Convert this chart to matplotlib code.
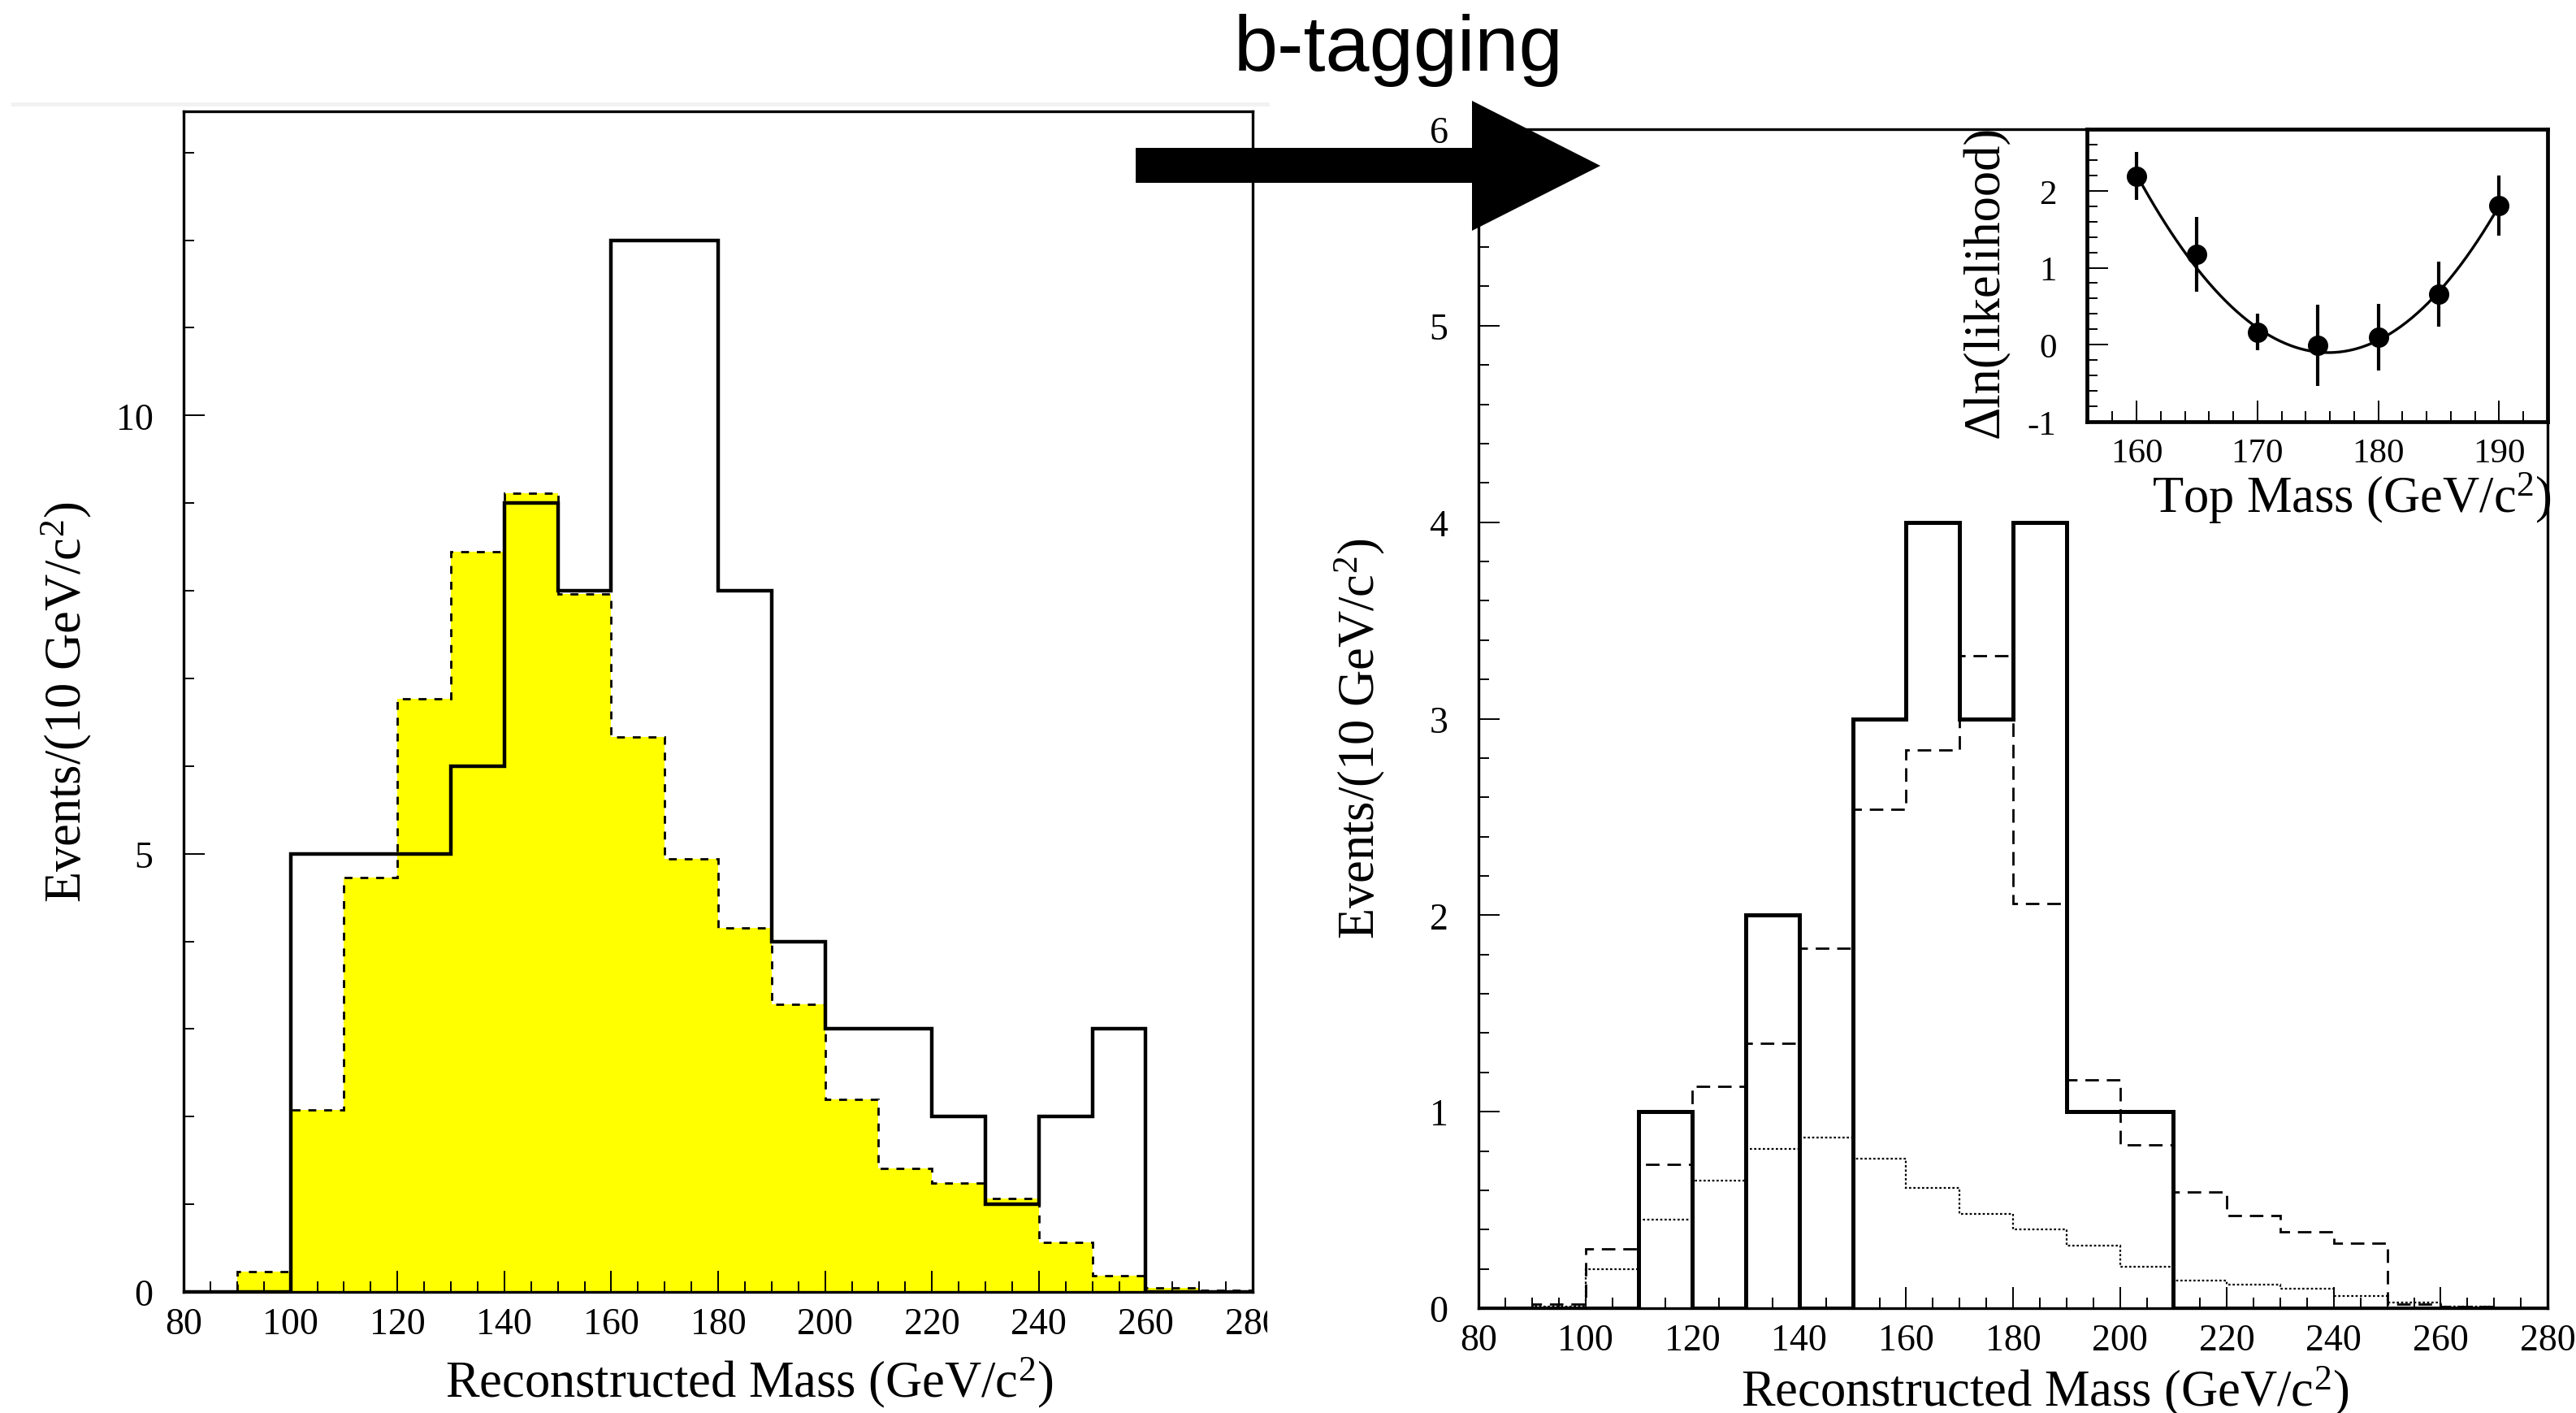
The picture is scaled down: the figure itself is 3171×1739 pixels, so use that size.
import numpy as np
import matplotlib
matplotlib.use("Agg")
import matplotlib.pyplot as plt
from matplotlib.patches import Polygon
from matplotlib.lines import Line2D
from matplotlib.transforms import Bbox, TransformedBbox
from matplotlib.ticker import MultipleLocator

# ---------------- data ----------------
mass_edges = np.arange(80, 290, 10)          # 80..280 (20 bins)
left_data = [0, 0, 5, 5, 5, 6, 9, 8, 12, 12, 8, 4, 3, 3, 2, 1, 2, 3, 0, 0]
left_mc_edges = np.arange(90, 290, 10)       # 90..280 (19 bins)
left_mc = [0.23, 2.08, 4.73, 6.77, 8.45, 9.11, 7.96, 6.33, 4.94, 4.15,
           3.28, 2.20, 1.41, 1.24, 1.07, 0.57, 0.19, 0.05, 0.02]

right_data = [0, 0, 0, 1, 0, 2, 0, 3, 4, 3, 4, 1, 1, 0, 0, 0, 0, 0, 0, 0]
right_mc_edges = np.arange(90, 280, 10)      # 90..270 (18 bins)
right_total = [0.02, 0.30, 0.73, 1.13, 1.35, 1.83, 2.54, 2.84, 3.32, 2.06,
               1.16, 0.83, 0.59, 0.47, 0.39, 0.33, 0.02, 0.01]
right_bkg = [0.01, 0.20, 0.45, 0.65, 0.81, 0.87, 0.76, 0.61, 0.48, 0.40,
             0.32, 0.21, 0.14, 0.12, 0.10, 0.06, 0.03, 0.01]

top_mass = [160, 165, 170, 175, 180, 185, 190]
dlnl = [2.19, 1.175, 0.165, -0.01, 0.10, 0.66, 1.81]
dlnl_err = [0.31, 0.49, 0.24, 0.53, 0.43, 0.42, 0.39]

title_text = "b-tagging"
xlabel_text = r"Reconstructed Mass (GeV/c$^{2}$)"
ylabel_text = r"Events/(10 GeV/c$^{2}$)"
inset_xlabel = r"Top Mass (GeV/c$^{2}$)"
inset_ylabel = "\u0394ln(likelihood)"

# ---------------- style ----------------
plt.rcParams["font.family"] = ["Liberation Serif", "DejaVu Serif"]
plt.rcParams["mathtext.fontset"] = "custom"
plt.rcParams["mathtext.rm"] = "Liberation Serif"
plt.rcParams["mathtext.it"] = "Liberation Serif:italic"
plt.rcParams["axes.unicode_minus"] = False

W, H = 3171, 1740
fig = plt.figure(figsize=(W / 100, H / 100), dpi=100)
fig.patch.set_facecolor("white")


def box(x0, y0, x1, y1):
    return [x0 / W, 1 - y1 / H, (x1 - x0) / W, (y1 - y0) / H]


axL = fig.add_axes(box(226, 138, 1542, 1591))
axR = fig.add_axes(box(1820, 160, 3136, 1611))
axI = fig.add_axes(box(2569, 160, 3136, 520))


def style(ax, xmaj, xmin, ymaj, ymin, spine_lw, tick_fs, xpad, ypad):
    ax.xaxis.set_major_locator(MultipleLocator(xmaj))
    ax.xaxis.set_minor_locator(MultipleLocator(xmin))
    ax.yaxis.set_major_locator(MultipleLocator(ymaj))
    ax.yaxis.set_minor_locator(MultipleLocator(ymin))
    ax.tick_params(which="both", direction="in", top=False, right=False,
                   width=1.4, color="black", labelsize=tick_fs)
    ax.tick_params(which="major", length=19)
    ax.tick_params(which="minor", length=9.5)
    ax.tick_params(axis="x", pad=xpad)
    ax.tick_params(axis="y", pad=ypad)
    for s in ax.spines.values():
        s.set_linewidth(spine_lw)


# ---------------- left panel ----------------
axL.stairs(left_mc, left_mc_edges, fill=True, facecolor="#ffff00",
           edgecolor="none", zorder=1)
axL.stairs(left_mc, left_mc_edges, fill=False, edgecolor="black",
           linewidth=2.0, linestyle=(0, (3.5, 3.5)), zorder=2)
axL.stairs(left_data, mass_edges, fill=False, edgecolor="black",
           linewidth=3.2, zorder=3)
axL.set_xlim(80, 280)
axL.set_ylim(0, 13.47)
style(axL, 20, 5, 5, 1, 2.4, 33, 13, 27)
axL.set_xlabel(xlabel_text, fontsize=45)
axL.xaxis.set_label_coords(0.529, -0.0887)
axL.xaxis.label.set_va("baseline")
axL.set_ylabel(ylabel_text, fontsize=45)
axL.yaxis.set_label_coords(-0.0965, 0.5)
axL.yaxis.label.set_va("baseline")

# ---------------- right panel ----------------
axR.stairs(right_bkg, right_mc_edges, fill=False, edgecolor="black",
           linewidth=1.6, linestyle=(0, (1.2, 1.2)), zorder=1)
axR.stairs(right_total, right_mc_edges, fill=False, edgecolor="black",
           linewidth=2.0, linestyle=(0, (6, 3.5)), zorder=2)
axR.stairs(right_data, mass_edges, fill=False, edgecolor="black",
           linewidth=3.6, zorder=3)
axR.set_xlim(80, 280)
axR.set_ylim(0, 6)
style(axR, 20, 5, 1, 0.2, 2.4, 33, 13, 27)
axR.set_xlabel(xlabel_text, fontsize=45)
axR.xaxis.set_label_coords(0.53, -0.082)
axR.xaxis.label.set_va("baseline")
axR.set_ylabel(ylabel_text, fontsize=45)
axR.yaxis.set_label_coords(-0.098, 0.4835)
axR.yaxis.label.set_va("baseline")

# ---------------- inset ----------------
axI.set_facecolor("white")
coef = np.polyfit(top_mass, dlnl, 3, w=1.0 / np.asarray(dlnl_err))
xf = np.linspace(min(top_mass), max(top_mass), 200)
axI.plot(xf, np.polyval(coef, xf), color="black", lw=2.4, zorder=2)
axI.errorbar(top_mass, dlnl, yerr=dlnl_err, fmt="o", color="black",
             ms=17, elinewidth=3.0, capsize=0, zorder=3)
axI.set_xlim(155.9, 194)
axI.set_ylim(-1, 2.8)
style(axI, 10, 2, 1, 0.2, 3.4, 31, 14, 27)
axI.set_xlabel(inset_xlabel, fontsize=45)
axI.xaxis.set_label_coords(0.575, -0.307)
axI.xaxis.label.set_va("baseline")
axI.set_ylabel(inset_ylabel, fontsize=45)
axI.yaxis.set_label_coords(-0.192, 0.482)
axI.yaxis.label.set_va("baseline")

# ---------------- decorations ----------------
fig.add_artist(Line2D([16 / W, 1560 / W], [1 - 129 / H, 1 - 129 / H],
                      transform=fig.transFigure, color="#f2f2f2", lw=3.6,
                      zorder=0.5))
arrow_px = [(1398, 183), (1812, 183), (1812, 125), (1970, 205),
            (1812, 285), (1812, 226), (1398, 226)]
arrow = Polygon([(x / W, 1 - y / H) for x, y in arrow_px], closed=True,
                transform=fig.transFigure, facecolor="black",
                edgecolor="none", zorder=10)
fig.add_artist(arrow)
fig.text(1722 / W, 1 - 87 / H, title_text, ha="center", va="baseline",
         fontsize=70, family=["Liberation Sans", "DejaVu Sans"])

fig.canvas.draw()
clip = TransformedBbox(Bbox.from_extents(0, 0, 1560 / W, 1), fig.transFigure)
for lab in axL.get_xticklabels():
    lab.set_clip_box(clip)
    lab.set_clip_on(True)

fig.savefig("out.png", dpi=100, facecolor="white")
